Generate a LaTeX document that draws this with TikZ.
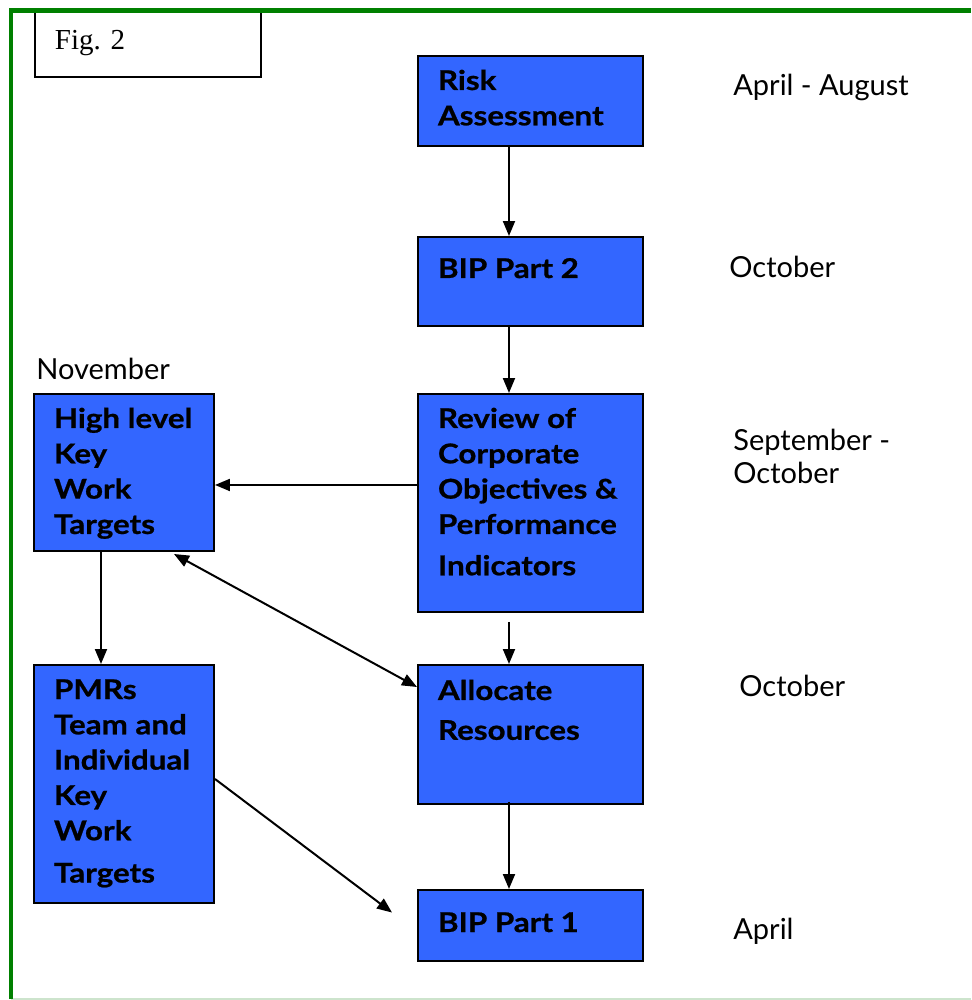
\documentclass[tikz,border=0pt]{standalone}
\usepackage{fontspec}
\setmainfont{Liberation Serif}
\newfontfamily\stagefont{Lato}[FakeStretch=1.15, BoldFeatures={FakeBold=0.8}]
\newfontfamily\monthfont{Lato}
\usepackage{tikz}
\usetikzlibrary{arrows.meta,positioning,calc}
\usepackage{xcolor}
\definecolor{stageblue}{RGB}{51,102,255}
\definecolor{framegreen}{RGB}{0,128,0}
\definecolor{palegreen}{RGB}{205,228,205}

% text block of a stage box: width, height, first line set down by the optional strut
\newcommand{\stagetext}[4][0.48cm]{\parbox[t][#3][t]{#2}{\raggedright\leftskip=0.4cm\rule{0pt}{#1}#4}}

\begin{document}
\begin{tikzpicture}[x=0.02cm, y=-0.02cm,
    stage/.style={draw=black, line width=0.04cm, fill=stageblue, anchor=north west,
        inner xsep=0pt, inner ysep=0.2cm,
        font=\stagefont\bfseries\fontsize{15.5}{20.1}\selectfont},
    figbox/.style={draw=black, line width=0.04cm, fill=white, anchor=north west,
        inner xsep=0pt, inner ysep=0.2cm, font=\fontsize{16.5}{19}\selectfont},
    month/.style={anchor=base west, inner sep=0pt, font=\monthfont\fontsize{16.5}{18.7}\selectfont},
    flow/.style={line width=0.04cm, -{Triangle[length=0.3cm,width=0.24cm]}},
    both/.style={line width=0.04cm, {Triangle[length=0.3cm,width=0.24cm]}-{Triangle[length=0.3cm,width=0.24cm]}}]
    \useasboundingbox (0,0) rectangle (971,1000);

    % Figure tag
    \node[figbox] (fig) at (34,10) {\stagetext[0.58cm]{4.52cm}{0.92cm}{Fig. 2}};

    % Frame
    \draw[palegreen, line width=0.03cm] (11,999) -- (971,999);
    \draw[framegreen, line width=0.1cm] (11,999) -- (11,10.5) -- (971,10.5);

    % Main column
    \node[stage] (risk)   at (417,55)  {\stagetext{4.5cm}{1.4cm}{Risk\\Assessment}};
    \node[stage] (bip2)   at (417,236) {\stagetext[0.62cm]{4.5cm}{1.38cm}{BIP Part 2}};
    \node[stage] (review) at (417,393) {\stagetext{4.5cm}{3.96cm}{Review of\\Corporate\\Objectives \&\\Performance\\[0.12cm]Indicators}};
    \node[stage] (alloc)  at (417,664) {\stagetext[0.5cm]{4.5cm}{2.38cm}{Allocate\\[0.09cm]Resources}};
    \node[stage] (bip1)   at (417,889) {\stagetext[0.64cm]{4.5cm}{1.02cm}{BIP Part 1}};

    % Left column
    \node[stage] (high) at (33,393) {\stagetext{3.6cm}{2.74cm}{High level\\Key\\Work\\Targets}};
    \node[stage] (pmr)  at (33,664) {\stagetext{3.6cm}{4.36cm}{PMRs\\Team and\\Individual\\Key\\Work\\[0.14cm]Targets}};

    % Months
    \node[month] (mrisk)   at (733,96)  {April - August};
    \node[month] (mbip2)   at (729,277) {October};
    \node[month, anchor=north west, align=left] (mreview) at (733,429) {September -\\October};
    \node[month] (malloc)  at (739,696) {October};
    \node[month] (mbip1)   at (733,939) {April};
    \node[month] (mhigh)   at (36,379)  {November};

    % Connectors
    \draw[flow] ([xshift=-0.43cm]risk.south) -- ([xshift=-0.43cm]bip2.north);
    \draw[flow] ([xshift=-0.43cm]bip2.south) -- ([xshift=-0.43cm]review.north);
    \draw[flow] ([yshift=0.36cm]review.west) -- ([yshift=0.36cm]review.west -| high.east);
    \draw[flow] ([xshift=-0.46cm]high.south) -- ([xshift=-0.46cm]pmr.north);
    \draw[both] ([xshift=-0.82cm,yshift=-0.04cm]high.south east) -- ([yshift=-0.46cm]alloc.north west);
    \draw[flow] ([xshift=-0.43cm,yshift=-0.18cm]review.south) -- ([xshift=-0.43cm]alloc.north);
    \draw[flow] ([xshift=-0.43cm,yshift=0.06cm]alloc.south) -- ([xshift=-0.43cm]bip1.north);
    \coordinate (pmrtip) at ([xshift=-0.5cm,yshift=0.26cm]bip1.west);
    \draw[flow] ([yshift=0.1cm]pmr.east) -- (pmrtip);
\end{tikzpicture}
\end{document}
